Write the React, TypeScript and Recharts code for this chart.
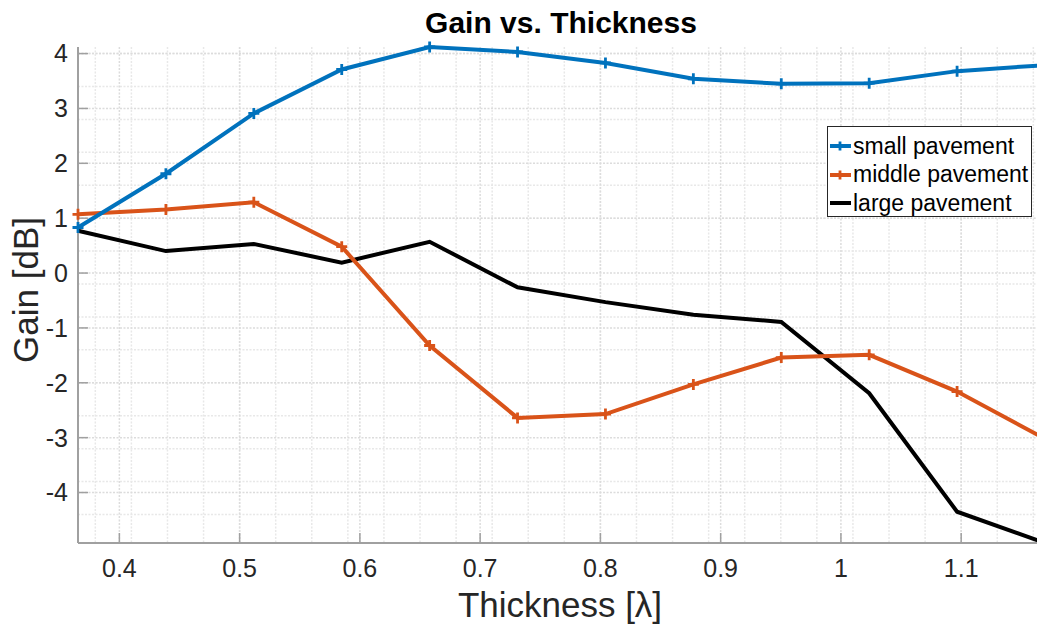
import React from 'react';
import { LineChart, Line, XAxis, YAxis, CartesianGrid, Legend } from 'recharts';

const thickness = [0.3656, 0.4387, 0.5118, 0.5849, 0.658, 0.7311, 0.8042, 0.8773, 0.9504, 1.0235, 1.0966, 1.1697];
const smallPavement = [0.83, 1.81, 2.91, 3.71, 4.12, 4.03, 3.83, 3.54, 3.45, 3.46, 3.68, 3.79];
const middlePavement = [1.07, 1.16, 1.29, 0.48, -1.32, -2.64, -2.57, -2.03, -1.54, -1.49, -2.16, -3.02];
const largePavement = [0.77, 0.4, 0.53, 0.19, 0.57, -0.26, -0.53, -0.76, -0.89, -2.19, -4.35, -4.92];

const xTicks = [0.4, 0.5, 0.6, 0.7, 0.8, 0.9, 1, 1.1];
const yTicks = [-4, -3, -2, -1, 0, 1, 2, 3, 4];
const xDomain: [number, number] = [0.3656, 1.1697];
const yDomain: [number, number] = [-4.92, 4.12];

const seriesNames = ['small pavement', 'middle pavement', 'large pavement'];

const minorX: number[] = [];
for (let k = 37; k <= 116; k++) minorX.push(k / 100);
const minorY: number[] = [];
for (let k = -24; k <= 20; k++) minorY.push(k / 5);

const FONT = "'Liberation Sans', Arial, Helvetica, sans-serif";
const BLUE = '#0072BD';
const ORANGE = '#D95319';
const BLACK = '#000000';
const AXIS = '#a0a0a0';
const TEXT = '#262626';

const plusDot = (color: string) => (props: any) => {
  const { cx, cy, index } = props;
  if (cx == null || cy == null) return <g key={`d${index}`} />;
  return (
    <path
      key={`d${index}`}
      d={`M${cx - 5.5},${cy}H${cx + 5.5}M${cx},${cy - 5.5}V${cy + 5.5}`}
      stroke={color}
      strokeWidth={2.8}
      fill="none"
    />
  );
};

const legendStyles = [
  { color: BLUE, marker: true },
  { color: ORANGE, marker: true },
  { color: BLACK, marker: false },
];

const LegendBox = () => (
  <div
    style={{
      width: 205,
      height: 91,
      boxSizing: 'border-box',
      border: '1px solid #262626',
      background: '#fff',
      paddingTop: 5,
      fontFamily: FONT,
      fontSize: 23,
      color: '#000',
    }}
  >
    {seriesNames.map((name, i) => (
      <div key={name} style={{ height: 28.5, display: 'flex', alignItems: 'center', whiteSpace: 'nowrap' }}>
        <svg width={24} height={14} style={{ marginLeft: 1, marginRight: 0, flex: 'none' }}>
          <line x1={1} y1={7} x2={22} y2={7} stroke={legendStyles[i].color} strokeWidth={4} />
          {legendStyles[i].marker && (
            <path d="M6.5,7H15.5M11,2.5V11.5" stroke={legendStyles[i].color} strokeWidth={2.8} />
          )}
        </svg>
        <span>{name}</span>
      </div>
    ))}
  </div>
);

export default function App() {
  const data = thickness.map((t, i) => ({
    t,
    small: smallPavement[i],
    middle: middlePavement[i],
    large: largePavement[i],
  }));
  const tickStyle = { fill: TEXT, fontSize: 25, fontFamily: FONT };
  return (
    <div style={{ position: 'absolute', left: 0, top: 0, width: 1037, height: 629, overflow: 'hidden', background: '#fff' }}>
      <LineChart width={1060} height={629} data={data} margin={{ top: 47, right: 15, bottom: 46, left: 0 }}>
        <CartesianGrid
          verticalValues={minorX}
          horizontalValues={minorY}
          stroke="#e8e8e8"
          strokeWidth={1.5}
          strokeDasharray="2 1.5"
        />
        <CartesianGrid
          verticalValues={xTicks}
          horizontalValues={yTicks}
          stroke="#dcdcdc"
          strokeWidth={1.5}
          strokeDasharray="2 1.5"
        />
        <XAxis
          dataKey="t"
          type="number"
          domain={xDomain}
          ticks={xTicks}
          height={40}
          stroke={AXIS}
          tickSize={-10}
          tickMargin={26}
          tick={tickStyle}
          axisLine={{ stroke: AXIS, strokeWidth: 2 }}
          tickLine={{ stroke: AXIS, strokeWidth: 1.5 }}
        />
        <XAxis
          xAxisId="top"
          orientation="top"
          type="number"
          domain={xDomain}
          allowDataOverflow
          ticks={xTicks}
          height={0}
          tick={false}
          tickSize={-10}
          axisLine={{ stroke: AXIS, strokeWidth: 2 }}
          tickLine={{ stroke: AXIS, strokeWidth: 1.5 }}
        />
        <YAxis
          type="number"
          domain={yDomain}
          ticks={yTicks}
          width={78}
          tickSize={-10}
          tickMargin={20}
          tick={tickStyle}
          axisLine={{ stroke: AXIS, strokeWidth: 2 }}
          tickLine={{ stroke: AXIS, strokeWidth: 1.5 }}
        />
        <YAxis
          yAxisId="right"
          orientation="right"
          type="number"
          domain={yDomain}
          allowDataOverflow
          ticks={yTicks}
          width={0}
          tick={false}
          tickSize={-10}
          axisLine={{ stroke: AXIS, strokeWidth: 2 }}
          tickLine={{ stroke: AXIS, strokeWidth: 1.5 }}
        />
        <Line
          dataKey="large"
          name={seriesNames[2]}
          stroke={BLACK}
          strokeWidth={4}
          dot={false}
          isAnimationActive={false}
        />
        <Line
          dataKey="middle"
          name={seriesNames[1]}
          stroke={ORANGE}
          strokeWidth={4}
          dot={plusDot(ORANGE)}
          isAnimationActive={false}
        />
        <Line
          dataKey="small"
          name={seriesNames[0]}
          stroke={BLUE}
          strokeWidth={4}
          dot={plusDot(BLUE)}
          isAnimationActive={false}
        />
        <Legend
          layout="vertical"
          align="center"
          verticalAlign="middle"
          content={() => <LegendBox />}
          wrapperStyle={{ left: 827, top: 126, width: 205, height: 91 }}
        />
      </LineChart>
      <svg
        width={1037}
        height={629}
        style={{ position: 'absolute', left: 0, top: 0, pointerEvents: 'none' }}
      >
        <text x={561} y={33} textAnchor="middle" fontFamily={FONT} fontWeight="bold" fontSize={30} fill="#000">
          Gain vs. Thickness
        </text>
        <text x={560} y={617} textAnchor="middle" fontFamily={FONT} fontSize={35} fill={TEXT}>
          Thickness [λ]
        </text>
        <text
          transform="translate(38,290) rotate(-90)"
          textAnchor="middle"
          fontFamily={FONT}
          fontSize={35}
          fill={TEXT}
        >
          Gain [dB]
        </text>
      </svg>
    </div>
  );
}
